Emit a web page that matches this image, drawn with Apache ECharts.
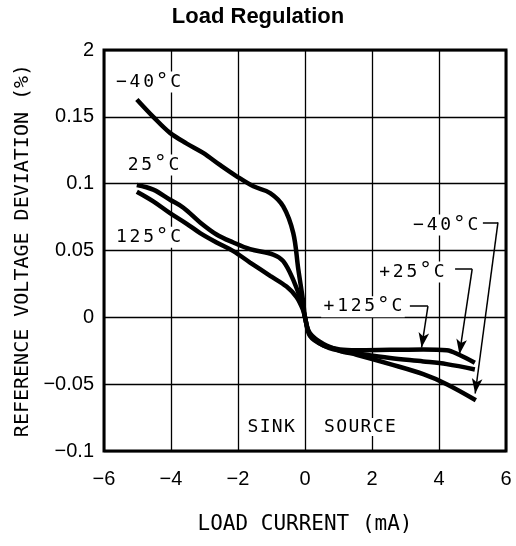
<!DOCTYPE html>
<html>
<head>
<meta charset="utf-8">
<script src="https://cdn.jsdelivr.net/npm/echarts@6/dist/echarts.min.js"></script>
<style>html,body{margin:0;padding:0;background:#fff}#c{width:516px;height:546px}</style>
</head>
<body>
<div id="c"></div>
<script>
// ---- data ----
const xTickLabels = ['\u22126','\u22124','\u22122','0','2','4','6'];
const yTickLabels = ['\u22120.1','\u22120.05','0','0.05','0.1','0.15','2'];

const m40 = [[-5.02,0.163],[-4.53,0.150],[-4.03,0.138],[-3.53,0.130],[-3.04,0.123],[-2.54,0.114],[-2.04,0.1055],[-1.54,0.098],[-1.04,0.093],[-0.65,0.083],[-0.35,0.063],[-0.2,0.036],[-0.05,0.011],[0,0.0],[0.15,-0.012],[0.55,-0.020],[1.04,-0.025],[1.54,-0.028],[2.54,-0.035],[3.53,-0.0425],[4.23,-0.050],[5.1,-0.062]];
const p25 = [[-5.02,0.099],[-4.53,0.0955],[-4.03,0.088],[-3.63,0.082],[-3.13,0.071],[-2.64,0.062],[-2.14,0.056],[-1.64,0.051],[-0.95,0.047],[-0.65,0.042],[-0.35,0.028],[-0.1,0.011],[0,0.0],[0.15,-0.013],[0.55,-0.021],[1.04,-0.025],[1.54,-0.027],[2.54,-0.0305],[3.53,-0.033],[4.23,-0.035],[5.07,-0.039]];
const p125 = [[-5.02,0.094],[-4.53,0.0868],[-4.03,0.078],[-3.53,0.070],[-3.13,0.063],[-2.64,0.056],[-2.14,0.0495],[-1.64,0.041],[-1.04,0.031],[-0.55,0.023],[-0.25,0.015],[-0.05,0.005],[0,0.0],[0.15,-0.014],[0.55,-0.021],[1.04,-0.024],[1.54,-0.0246],[2.54,-0.0243],[3.53,-0.024],[4.23,-0.0246],[4.6,-0.028],[5.07,-0.034]];

// annotation texts and anchors (data coordinates)
const annoTexts = ['\u221240\u00b0C','25\u00b0C','125\u00b0C','\u221240\u00b0C','+25\u00b0C','+125\u00b0C','SINK','SOURCE'];
const annoPos = [[-4.67,0.176],[-4.52,0.114],[-4.67,0.060],[4.20,0.069],[3.19,0.034],[1.73,0.008],[-1.01,-0.082],[1.64,-0.082]];
// leader lines: [start, corner, arrow tip]
const leaders = [
  [[5.31,0.071],[5.76,0.071],[5.08,-0.057]],
  [[4.48,0.036],[4.99,0.036],[4.61,-0.0276]],
  [[3.13,0.0084],[3.67,0.0084],[3.48,-0.0226]]
];

const mono = 'DejaVu Sans Mono';
const chart = echarts.init(document.getElementById('c'), null, {renderer:'canvas'});

const curveStyle = {color:'#000', width:4.5};
function curve(name, data){
  return {name, type:'line', data, smooth:0.35, showSymbol:false, symbol:'none',
    lineStyle:curveStyle, itemStyle:{color:'#000'}, z:5, silent:true};
}

const markLineData = [];
leaders.forEach(l=>{
  markLineData.push([{coord:l[0], symbol:'none'},{coord:l[1], symbol:'none'}]);
  markLineData.push([{coord:l[1], symbol:'none'},{coord:l[2], symbol:'arrow', symbolSize:[8,15]}]);
});

const markPointData = annoTexts.map((t,i)=>({coord:annoPos[i], value:t}));

// spaced-out letters like the plotter font
function spaced(t){
  const wide = t.indexOf('\u00b0') >= 0;
  return Array.from(t).map(ch=>{
    if (ch === '\u00b0') return '{d|' + ch + '}';
    return '{' + (wide ? 'c' : 'n') + '|' + ch + '}';
  }).join('');
}

chart.setOption({
  animation:false,
  backgroundColor:'#fff',
  title:{text:'Load Regulation', left:'center', top:1,
    textStyle:{fontFamily:'Liberation Sans', fontWeight:'bold', fontSize:22, color:'#000'}},
  grid:{left:104, right:10, top:50, bottom:95, show:true, borderColor:'#000', borderWidth:3, backgroundColor:'transparent'},
  xAxis:{type:'value', min:-6, max:6, interval:2,
    axisLine:{show:false}, axisTick:{show:false},
    splitLine:{show:true, lineStyle:{color:'#000', width:1.3}},
    axisLabel:{margin:18, fontFamily:'Liberation Sans', fontSize:20, color:'#000',
      formatter:v=>xTickLabels[Math.round((v+6)/2)]},
    name:'LOAD CURRENT (mA)', nameLocation:'middle', nameGap:63,
    nameTextStyle:{fontFamily:mono, fontSize:21, color:'#000'}},
  yAxis:{type:'value', min:-0.1, max:0.2, interval:0.05,
    axisLine:{show:false}, axisTick:{show:false},
    splitLine:{show:true, lineStyle:{color:'#000', width:1.3}},
    axisLabel:{margin:10, fontFamily:'Liberation Sans', fontSize:20, color:'#000',
      formatter:v=>yTickLabels[Math.round((v+0.1)/0.05)]},
    name:'REFERENCE VOLTAGE DEVIATION (%)', nameLocation:'middle', nameGap:70,
    nameTextStyle:{fontFamily:mono, fontSize:20, color:'#000'}},
  series:[
    curve('-40°C', m40),
    curve('25°C', p25),
    curve('125°C', p125),
    {type:'line', data:[], silent:true, z:6,
      markLine:{silent:true, animation:false, label:{show:false},
        lineStyle:{color:'#000', width:1.5, type:'solid'}, symbol:'none',
        data:markLineData},
      markPoint:{silent:true, animation:false, symbol:'rect', symbolSize:0,
        label:{show:true, position:'inside', formatter:p=>spaced(p.value),
          fontFamily:mono, fontSize:18, color:'#000', backgroundColor:'#fff', padding:[0,1],
          rich:{
            c:{fontFamily:mono, fontSize:18, width:13.6, align:'center', color:'#000'},
            n:{fontFamily:mono, fontSize:18, width:12.2, align:'center', color:'#000'},
            d:{fontFamily:mono, fontSize:21, width:13.6, align:'center', color:'#000'}
          }},
        data:markPointData}
    }
  ]
});
</script>
</body>
</html>
